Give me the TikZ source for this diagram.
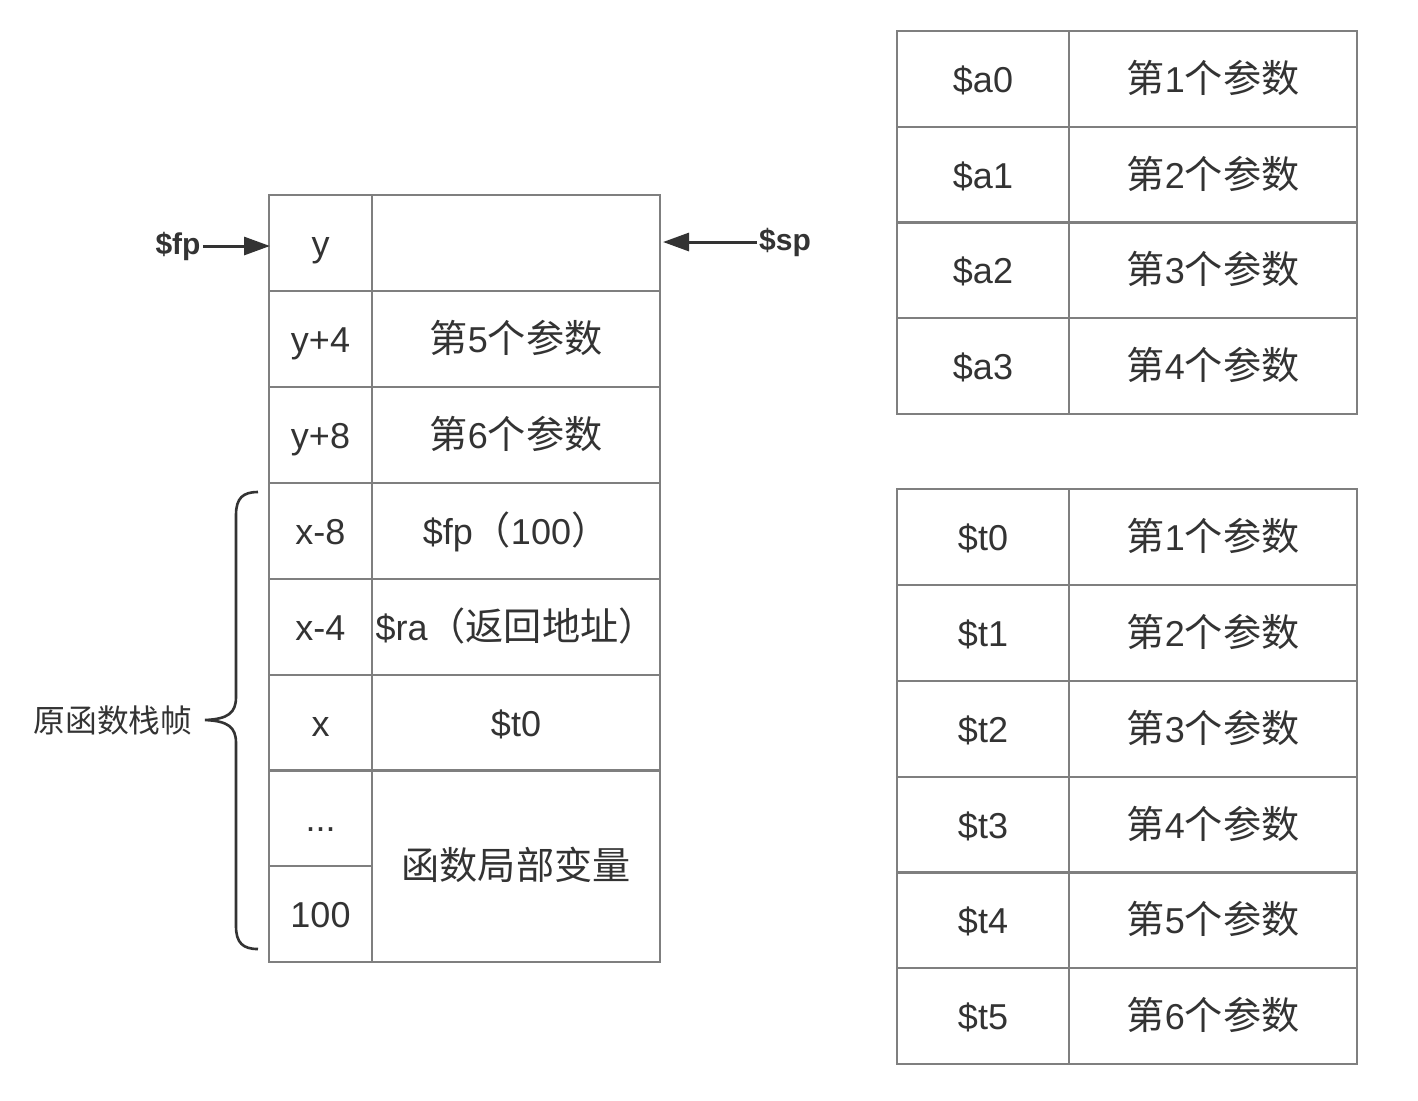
\documentclass[tikz,border=0pt]{standalone}
\usepackage{fontspec}
\setmainfont{Liberation Sans}
\newfontfamily\cjk[Scale=1.06]{Noto Sans CJK SC}
\usetikzlibrary{arrows.meta}

\definecolor{linegray}{HTML}{7F7F7F}
\definecolor{textgray}{HTML}{333333}

% n-th argument label
\newcommand{\argno}[1]{{\cjk 第}#1{\cjk 个参数}}

\begin{document}
\begin{tikzpicture}[x=0.5pt, y=-0.5pt,
    cell/.style={draw=linegray, line width=1pt, minimum height=48pt, inner sep=0pt,
                 text height=13pt, text depth=0pt,
                 text=textgray, font=\fontsize{18}{20}\selectfont},
    addr/.style={cell, minimum width=51.5pt},
    slot/.style={cell, minimum width=144pt},
    reg/.style={cell, minimum width=86pt},
    ptr/.style={text=textgray, font=\fontsize{15}{17}\selectfont\bfseries, inner sep=1pt},
    ptrarrow/.style={draw=textgray, line width=1.5pt, -{Triangle[length=13pt,width=9pt]}}]
    \useasboundingbox (0,0) rectangle (1418,1100);

    % Stack of the called function
    \node[addr] (y)   at (320.5,243) {y};
    \node[slot] (yc)  at (516,243) {};
    \node[addr] (y4)  at (320.5,339) {y+4};
    \node[slot] (y4c) at (516,339) {\argno{5}};
    \node[addr] (y8)  at (320.5,435) {y+8};
    \node[slot] (y8c) at (516,435) {\argno{6}};
    \node[addr] (x8)  at (320.5,531) {x-8};
    \node[slot] (x8c) at (516,531) {\$fp{\cjk （}100{\cjk ）}};
    \node[addr] (x4)  at (320.5,627) {x-4};
    \node[slot] (x4c) at (516,627) {\$ra{\cjk （返回地址）}};
    \node[addr] (x)   at (320.5,723) {x};
    \node[slot] (xc)  at (516,723) {\$t0};
    \node[addr] (dots) at (320.5,818) {...};
    \node[addr] (hund) at (320.5,914) {100};
    \node[slot, minimum height=96pt] (locals) at (516,866) {\cjk 函数局部变量};

    % Frame and stack pointers
    \node[ptr] (fp) at (178,246) {\$fp};
    \draw[ptrarrow] (fp.east) -- ([xshift=1pt]fp.east -| y.west);
    \node[ptr] (sp) at (785,242) {\$sp};
    \draw[ptrarrow] (sp.west) -- ([xshift=1pt]sp.west -| yc.east);

    % Caller frame brace
    \node[text=textgray, font=\fontsize{15}{17}\selectfont\cjk] (frame) at (113,720) {原函数栈帧};
    \draw[textgray, line width=1.3pt]
        (258,492) .. controls (243,492) and (236,498) .. (236,515) -- (236,697)
        .. controls (236,713) and (228,719) .. (205,720)
        .. controls (228,721) and (236,727) .. (236,743) -- (236,926)
        .. controls (236,943) and (243,949) .. (258,949);

    % Argument registers
    \foreach \r/\cy in {0/79, 1/175, 2/270, 3/366} {
        \pgfmathtruncatemacro{\n}{\r+1}
        \node[reg]  (a\r)  at (983,\cy) {\$a\r};
        \node[slot] (a\r c) at (1213,\cy) {\argno{\n}};
    }

    % Temporary registers
    \foreach \r/\cy in {0/537, 1/633, 2/729, 3/825, 4/920, 5/1016} {
        \pgfmathtruncatemacro{\n}{\r+1}
        \node[reg]  (t\r)  at (983,\cy) {\$t\r};
        \node[slot] (t\r c) at (1213,\cy) {\argno{\n}};
    }
\end{tikzpicture}
\end{document}
